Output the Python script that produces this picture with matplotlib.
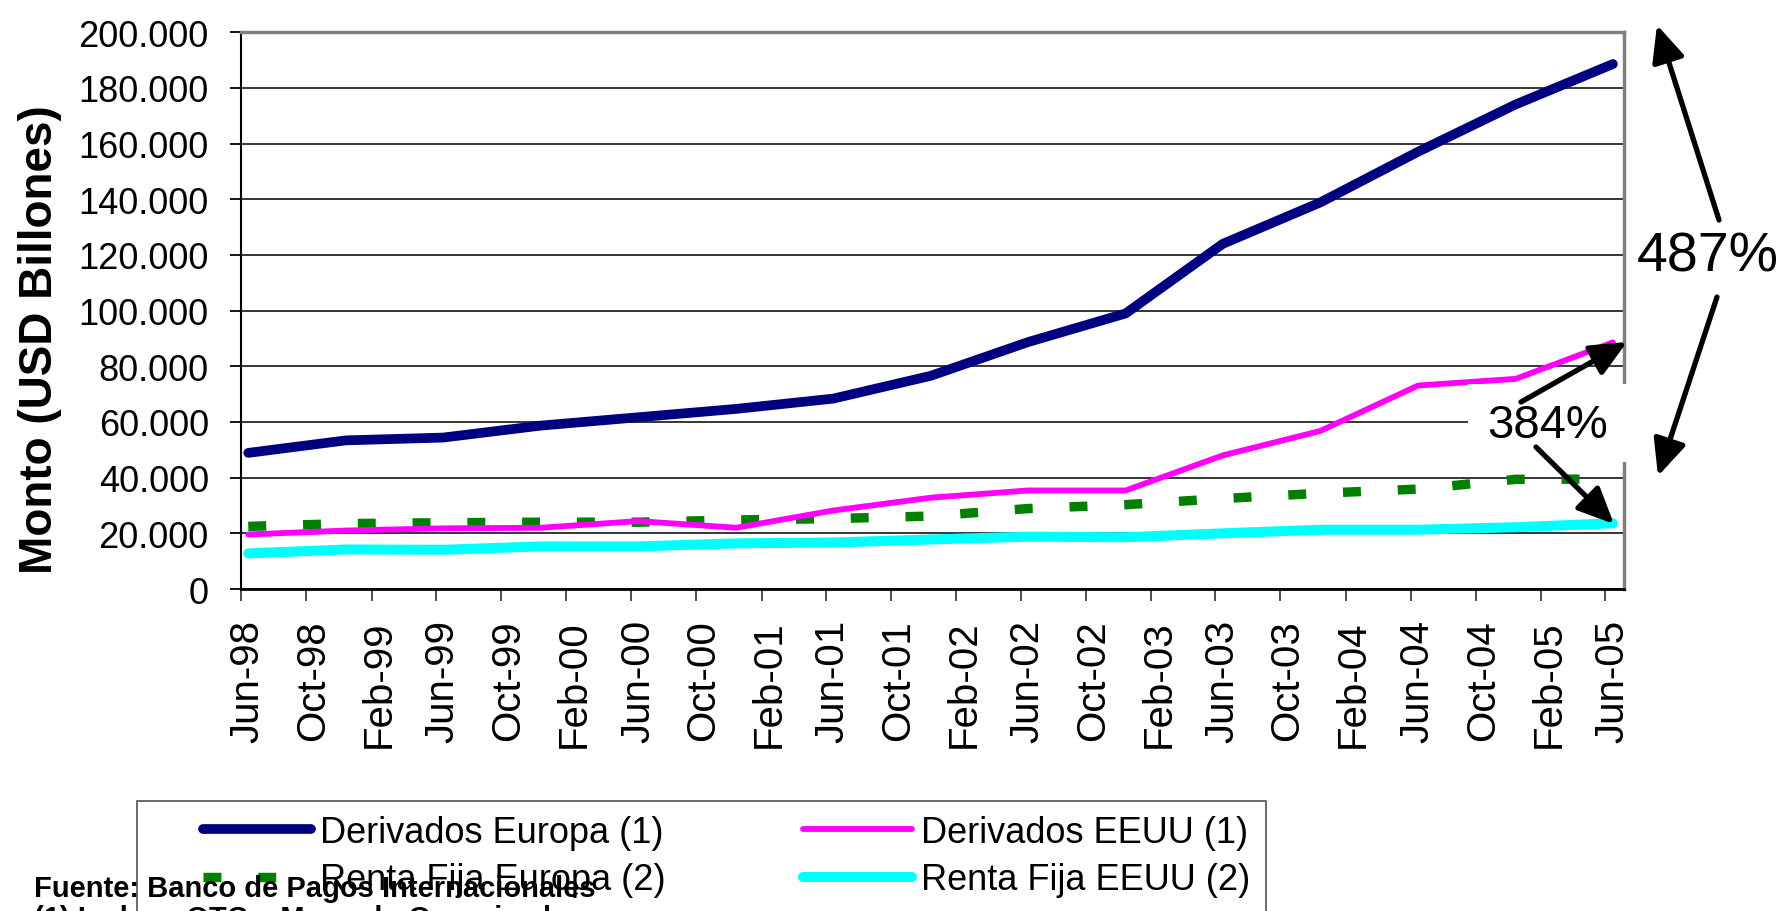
import matplotlib
matplotlib.use("Agg")
import matplotlib.pyplot as plt
import matplotlib.dates as mdates
from matplotlib.patches import Rectangle, FancyArrowPatch
from matplotlib.ticker import FuncFormatter, MultipleLocator
from matplotlib.transforms import ScaledTranslation
import pandas as pd

plt.rcParams["font.family"] = ["Liberation Sans", "DejaVu Sans"]

# semi-annual observations (mid-month)
FECHAS = [
    "1998-06-15", "1998-12-15", "1999-06-15", "1999-12-15", "2000-06-15",
    "2000-12-15", "2001-06-15", "2001-12-15", "2002-06-15", "2002-12-15",
    "2003-06-15", "2003-12-15", "2004-06-15", "2004-12-15", "2005-06-15",
]
DERIV_EUROPA = [48900, 53400, 54400, 58700, 61700, 64700, 68400, 76600,
                88700, 99000, 124000, 138900, 157100, 174100, 188600]
DERIV_EEUU = [19600, 21000, 21800, 22000, 24400, 22000, 28200, 32800,
              35400, 35400, 48000, 56800, 73100, 75500, 88600]
RF_EUROPA = [22500, 23500, 23800, 24000, 24000, 24800, 25300, 26200,
             28900, 30300, 32500, 34400, 35900, 39400, 39500]
RF_EEUU = [12800, 14200, 14100, 15300, 15300, 16400, 16700, 17800,
           18800, 18600, 20000, 21300, 21300, 22200, 23600]

W, H = 1788, 912


def fx(px):
    return px / W


def fy(py):
    return (H - py) / H


fig = plt.figure(figsize=(W / 100, H / 100), dpi=100)
ax = fig.add_axes([fx(240.8), fy(590), fx(1623.6) - fx(240.8), fy(33.3) - fy(590)])

x = pd.to_datetime(FECHAS)
l_de = ax.plot(x, DERIV_EUROPA, color="#000080", lw=7.0, solid_capstyle="round",
               solid_joinstyle="round", zorder=5)[0]
l_du = ax.plot(x, DERIV_EEUU, color="#FF00FF", lw=4.2, solid_capstyle="round", zorder=4)[0]
l_re = ax.plot(x, RF_EUROPA, color="#008000", lw=6.8, dashes=(1.9, 3.9),
               dash_capstyle="butt", zorder=3)[0]
l_ru = ax.plot(x, RF_EEUU, color="#00FFFF", lw=7.2, solid_capstyle="round", zorder=2)[0]

ax.set_ylim(0, 200000)
ax.set_xlim(pd.Timestamp("1998-06-01"), pd.Timestamp("2005-07-05"))
ax.yaxis.set_major_locator(MultipleLocator(20000))
ax.yaxis.set_major_formatter(FuncFormatter(lambda v, p: f"{int(v):,}".replace(",", ".")))
ax.xaxis.set_major_locator(mdates.MonthLocator(bymonth=(2, 6, 10), bymonthday=1))
ax.xaxis.set_major_formatter(mdates.DateFormatter("%b-%y"))
ax.grid(axis="y", color="#262626", lw=1.3)
ax.set_axisbelow(True)

ax.tick_params(axis="y", length=8, width=1.3, pad=15, labelsize=26)
ax.tick_params(axis="x", length=8.6, width=1.3, pad=13, labelsize=29, labelrotation=90,
               color="#404040")
for lab in ax.get_xticklabels():
    lab.set_transform(lab.get_transform() + ScaledTranslation(0.07, 0, fig.dpi_scale_trans))

for side in ("top", "right"):
    ax.spines[side].set_color("#808080")
    ax.spines[side].set_linewidth(2.5)
ax.spines["left"].set_linewidth(1.5)
ax.spines["bottom"].set_linewidth(2.0)

fig.text(fx(40), fy(339.5), "Monto (USD Billones)", rotation=90, ha="center", va="center",
         fontsize=33, fontweight="bold")

# white patch behind the 384% label
fig.patches.append(Rectangle((fx(1468), fy(463)), fx(1633) - fx(1468), fy(385) - fy(463),
                             transform=fig.transFigure, facecolor="white", edgecolor="none",
                             zorder=5))

fig.text(fx(1708), fy(258), "487%", ha="center", va="center", fontsize=40, zorder=6)
fig.text(fx(1548), fy(426), "384%", ha="center", va="center", fontsize=34, zorder=6)

ARROWS = [
    ((1719, 221), (1657, 26)),
    ((1717, 298), (1658, 477)),
    ((1521, 403), (1627, 343)),
    ((1536, 448), (1614, 525)),
]
for (x0, y0), (x1, y1) in ARROWS:
    fig.add_artist(FancyArrowPatch(
        (fx(x0), fy(y0)), (fx(x1), fy(y1)), transform=fig.transFigure,
        arrowstyle="-|>,head_length=22,head_width=10", mutation_scale=1,
        lw=3.8, color="black", shrinkA=0, shrinkB=0, zorder=7))

# legend (frame runs past the bottom of the picture)
handles = [l_de, l_re, l_du, l_ru]
labels = ["Derivados Europa (1)", "Renta Fija Europa (2)", "Derivados EEUU (1)", "Renta Fija EEUU (2)"]
fig.legend(handles, labels, ncol=2, loc="center left", bbox_to_anchor=(fx(203), fy(857)),
           frameon=False, fontsize=26, handlelength=3.0, handletextpad=0.25,
           columnspacing=3.8, labelspacing=0.34, borderpad=0, borderaxespad=0)
fig.patches.append(Rectangle((fx(137), -0.2), fx(1266) - fx(137), fy(802) + 0.2,
                             transform=fig.transFigure, facecolor="none",
                             edgecolor="#606060", lw=1.3, zorder=1))

fig.text(fx(34), fy(897), "Fuente: Banco de Pagos Internacionales", fontsize=21,
         fontweight="bold", va="baseline", zorder=8)
fig.text(fx(34), fy(927), "(1) Incluye OTC y Mercado Organizado", fontsize=21,
         fontweight="bold", va="baseline", zorder=8)

fig.savefig("out.png", dpi=100)
